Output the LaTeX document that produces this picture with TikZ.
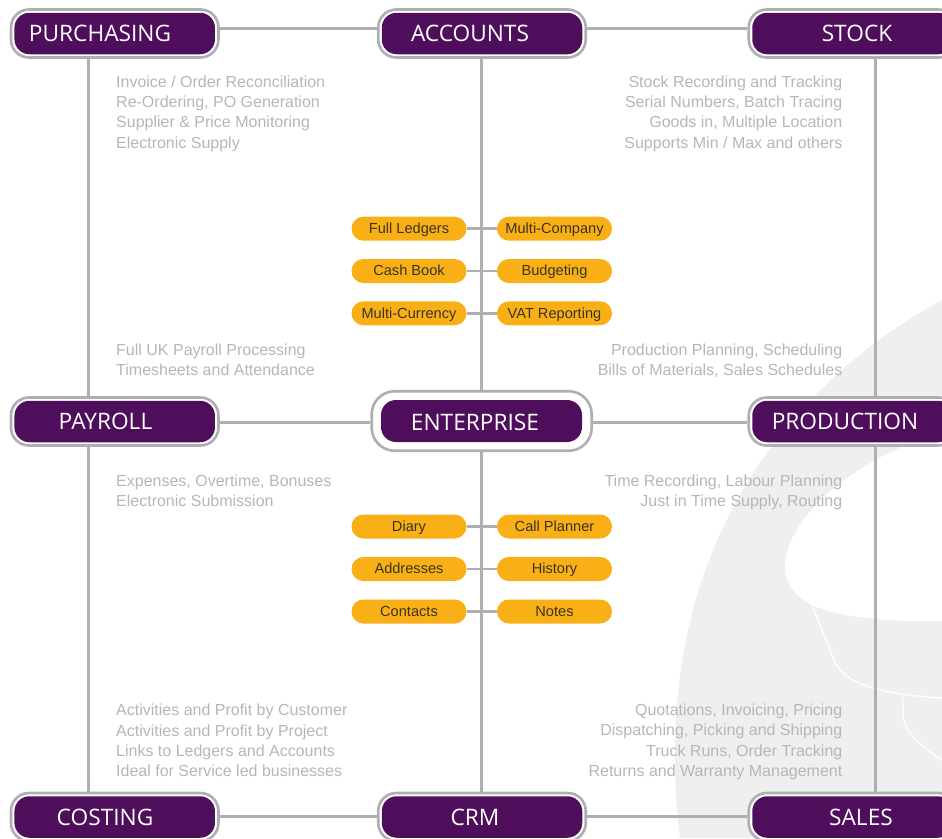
\documentclass[tikz,border=0pt]{standalone}
\usepackage{fontspec}
\setmainfont{Liberation Sans}
\newfontfamily\headfont{Open Sans}
\usetikzlibrary{backgrounds}
\definecolor{plum}{HTML}{4F0E5B}
\definecolor{linegray}{HTML}{ADAFB2}
\definecolor{bodygray}{HTML}{B5B6B8}
\definecolor{pillorange}{HTML}{F8B016}
\definecolor{pilltext}{HTML}{3A3420}
\definecolor{shapegray}{HTML}{EFEFF0}
\tikzset{
  hubouter/.style={draw=linegray,line width=2.6pt,fill=white,rounded corners=18pt,minimum width=207.5pt,minimum height=48pt,inner sep=0pt},
  hubinner/.style={fill=plum,rounded corners=15pt,minimum width=200.5pt,minimum height=41.5pt,inner sep=0pt},
  entouter/.style={draw=linegray,line width=2.6pt,fill=white,rounded corners=23pt,minimum width=220pt,minimum height=59.5pt,inner sep=0pt},
  entinner/.style={fill=plum,rounded corners=15pt,minimum width=201pt,minimum height=42pt,inner sep=0pt},
  hubtext/.style={text=white,font=\headfont\fontsize{22.7}{24}\selectfont,inner sep=0pt,text height=16.5pt,text depth=0pt},
  pill/.style={fill=pillorange,rounded corners=11.9pt,minimum width=115pt,minimum height=24pt,inner sep=0pt,text=pilltext,font=\fontsize{14.6}{16}\selectfont,text height=11.6pt,text depth=2.1pt},
  conn/.style={draw=linegray,line width=3pt},
  pillconn/.style={draw=linegray,line width=2.6pt},
  leftblock/.style={text=bodygray,font=\fontsize{16}{20.3}\selectfont,align=left,inner sep=0pt,anchor=west},
  rightblock/.style={text=bodygray,font=\fontsize{16}{20.3}\selectfont,align=right,inner sep=0pt,anchor=east},
  swirl/.style={draw=white,line width=1.3pt}
}
\newcommand{\hubnode}[5]{%
  \node[hubouter] (#1) at (#2,#3) {};
  \node[hubinner] (#1in) at (#1.center) {};
  \node[hubtext] (#1txt) at (#4,#3) {#5};
}
\begin{document}
\begin{tikzpicture}[x=1pt,y=-1pt]
\clip (0,0) rectangle (942,838);
% hubs
\hubnode{purch}{114.7}{33.5}{100}{PURCHASING}
\hubnode{acct}{482}{33.5}{470}{ACCOUNTS}
\hubnode{stock}{852.5}{33.5}{857}{STOCK}
\hubnode{pay}{114.7}{421.5}{105.5}{PAYROLL}
\hubnode{prod}{852.5}{421.5}{845}{PRODUCTION}
\hubnode{cost}{114.7}{817}{105}{COSTING}
\hubnode{crm}{482}{817}{475}{CRM}
\hubnode{sales}{852.5}{817}{861}{SALES}
\node[entouter] (ent) at (481.7,421) {};
\node[entinner] (entin) at (481.5,421) {};
\node[hubtext] (enttxt) at (475,422) {ENTERPRISE};
% pills
\node[pill] (p1) at (409,228.7) {Full Ledgers};
\node[pill] (p2) at (554.5,228.7) {Multi-Company};
\node[pill] (p3) at (409,271) {Cash Book};
\node[pill] (p4) at (554.5,271) {Budgeting};
\node[pill] (p5) at (409,313.3) {Multi-Currency};
\node[pill] (p6) at (554.5,313.3) {VAT Reporting};
\node[pill] (p7) at (409,526.5) {Diary};
\node[pill] (p8) at (554.5,526.5) {Call Planner};
\node[pill] (p9) at (409,569) {Addresses};
\node[pill] (p10) at (554.5,569) {History};
\node[pill] (p11) at (409,611.5) {Contacts};
\node[pill] (p12) at (554.5,611.5) {Notes};
% body text
\node[leftblock] (t1) at (116,113.5) {Invoice / Order Reconciliation\\Re-Ordering, PO Generation\\Supplier \& Price Monitoring\\Electronic Supply};
\node[rightblock] (t2) at (842.5,113.5) {Stock Recording and Tracking\\Serial Numbers, Batch Tracing\\Goods in, Multiple Location\\Supports Min / Max and others};
\node[leftblock] (t3) at (116,360) {Full UK Payroll Processing\\Timesheets and Attendance};
\node[rightblock] (t4) at (842.5,360.5) {Production Planning, Scheduling\\Bills of Materials, Sales Schedules};
\node[leftblock] (t5) at (116,491) {Expenses, Overtime, Bonuses\\Electronic Submission};
\node[rightblock] (t6) at (842.5,492.3) {Time Recording, Labour Planning\\Just in Time Supply, Routing};
\node[leftblock] (t7) at (116,740.7) {Activities and Profit by Customer\\Activities and Profit by Project\\Links to Ledgers and Accounts\\Ideal for Service led businesses};
\node[rightblock] (t8) at (842.5,742) {Quotations, Invoicing, Pricing\\Dispatching, Picking and Shipping\\Truck Runs, Order Tracking\\Returns and Warranty Management};
\begin{scope}[on background layer]
  % backdrop shape
  \fill[shapegray] (942,300) .. controls (830,360) and (672,500) .. (675,760)
     .. controls (675,790) and (677,815) .. (680,838) -- (942,838) -- cycle;
  \fill[white] (942,435) .. controls (880,445) and (785,510) .. (785,567)
     .. controls (785,590) and (805,602) .. (812,605)
     .. controls (840,618) and (890,622) .. (942,621) -- cycle;
  \draw[swirl] (812,605) -- (834,660) .. controls (842,682) and (875,694) .. (942,698);
  \draw[swirl] (903,697) -- (903,715) .. controls (904,732) and (925,750) .. (942,760);
  % connectors
  \draw[conn] (purch.east |- 0,28) -- (acct.west |- 0,28);
  \draw[conn] (acct.east |- 0,28) -- (stock.west |- 0,28);
  \draw[conn] (pay.east |- 0,422) -- (ent.west |- 0,422);
  \draw[conn] (ent.east |- 0,422) -- (prod.west |- 0,422);
  \draw[conn] (cost.east |- 0,816) -- (crm.west |- 0,816);
  \draw[conn] (crm.east |- 0,816) -- (sales.west |- 0,816);
  \draw[conn] (88,0 |- purch.south) -- (88,0 |- pay.north);
  \draw[conn] (88,0 |- pay.south) -- (88,0 |- cost.north);
  \draw[conn] (481,0 |- acct.south) -- (481,0 |- ent.north);
  \draw[conn] (481,0 |- ent.south) -- (481,0 |- crm.north);
  \draw[conn] (875,0 |- stock.south) -- (875,0 |- prod.north);
  \draw[conn] (875,0 |- prod.south) -- (875,0 |- sales.north);
  \draw[pillconn] (p1) -- (p2);
  \draw[pillconn] (p3) -- (p4);
  \draw[pillconn] (p5) -- (p6);
  \draw[pillconn] (p7) -- (p8);
  \draw[pillconn] (p9) -- (p10);
  \draw[pillconn] (p11) -- (p12);
\end{scope}
\end{tikzpicture}
\end{document}
